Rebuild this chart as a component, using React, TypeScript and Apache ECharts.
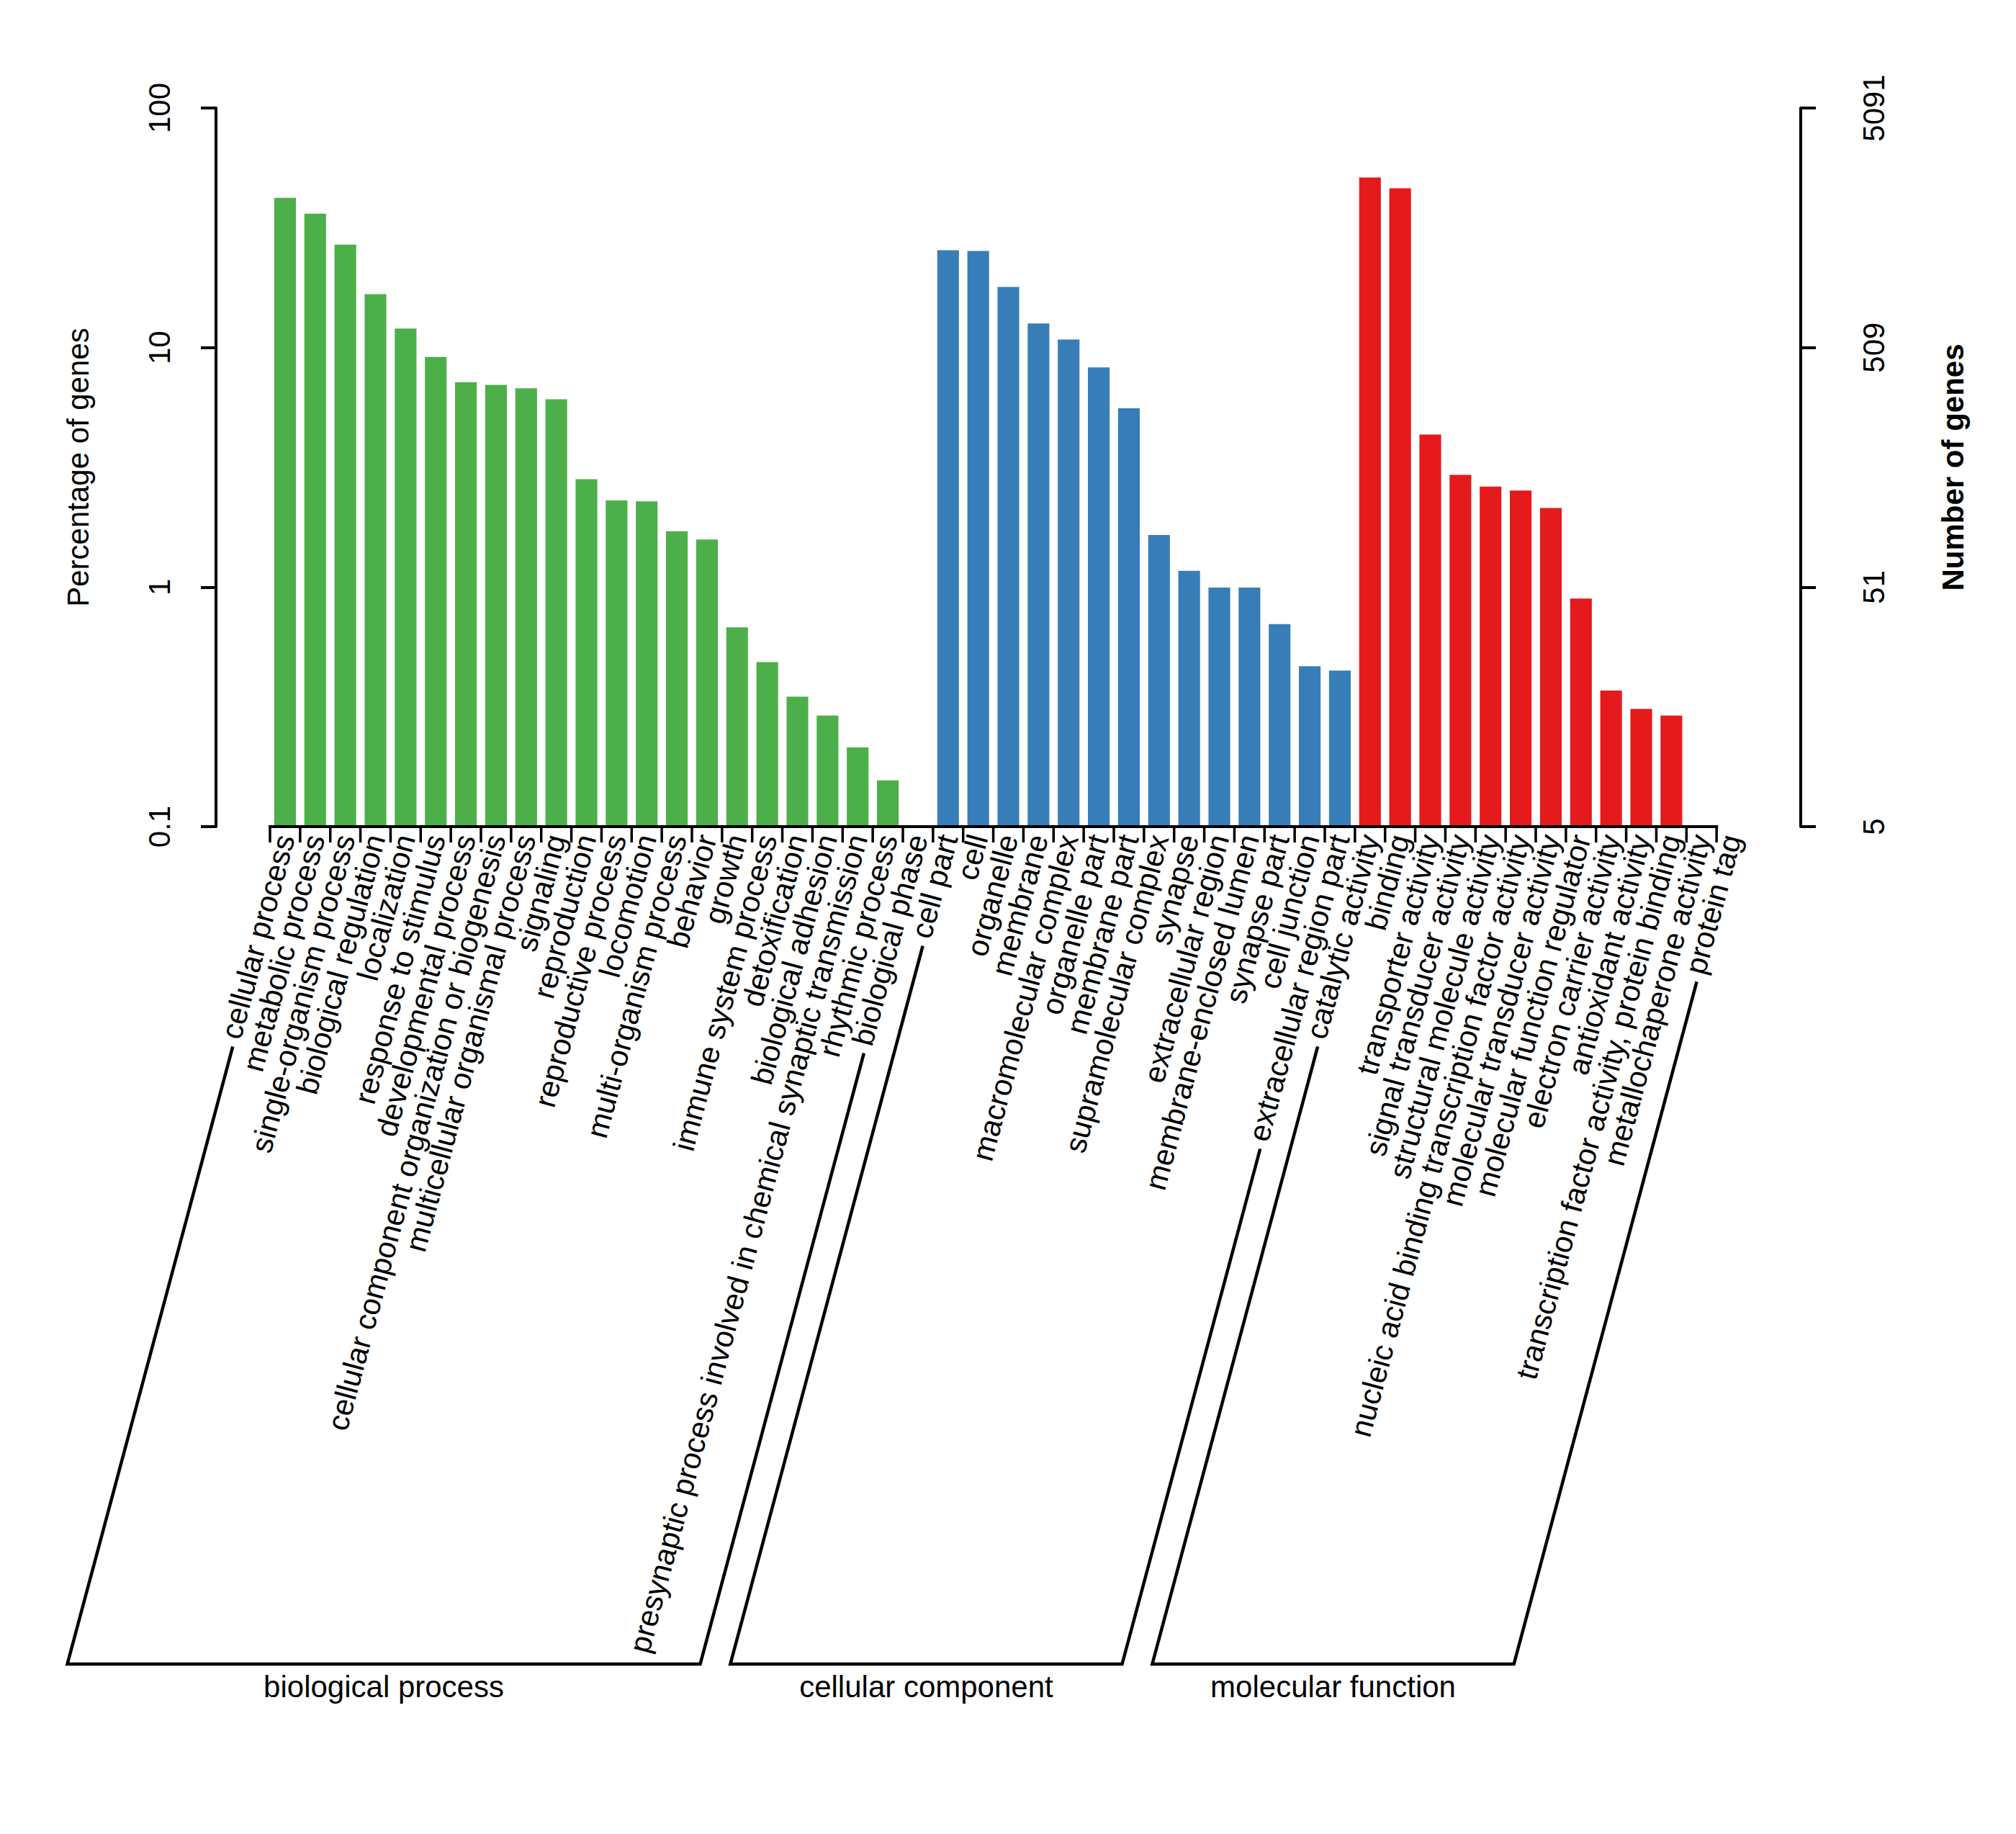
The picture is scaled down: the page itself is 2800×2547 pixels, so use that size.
import { useEffect, useRef } from 'react';
import * as echarts from 'echarts';

// GO level-2 terms, percentage of annotated genes (log scale)
const BP_TERMS = [
  'cellular process', 'metabolic process', 'single-organism process', 'biological regulation',
  'localization', 'response to stimulus', 'developmental process',
  'cellular component organization or biogenesis', 'multicellular organismal process', 'signaling',
  'reproduction', 'reproductive process', 'locomotion', 'multi-organism process', 'behavior', 'growth',
  'immune system process', 'detoxification', 'biological adhesion',
  'presynaptic process involved in chemical synaptic transmission', 'rhythmic process', 'biological phase',
];
const BP_PERCENT = [
  42.2, 36.2, 26.9, 16.7, 12.0, 9.14, 7.17, 6.98, 6.76, 6.08, 2.82, 2.3, 2.28, 1.71, 1.58,
  0.679, 0.486, 0.349, 0.291, 0.214, 0.156, 0.02,
];

const CC_TERMS = [
  'cell part', 'cell', 'organelle', 'membrane', 'macromolecular complex', 'organelle part',
  'membrane part', 'supramolecular complex', 'synapse', 'extracellular region',
  'membrane-enclosed lumen', 'synapse part', 'cell junction', 'extracellular region part',
];
const CC_PERCENT = [25.5, 25.3, 17.9, 12.6, 10.8, 8.26, 5.58, 1.65, 1.17, 0.995, 0.995, 0.701, 0.467, 0.448];

const MF_TERMS = [
  'catalytic activity', 'binding', 'transporter activity', 'signal transducer activity',
  'structural molecule activity', 'nucleic acid binding transcription factor activity',
  'molecular transducer activity', 'molecular function regulator', 'electron carrier activity',
  'antioxidant activity', 'transcription factor activity, protein binding', 'metallochaperone activity',
  'protein tag',
];
const MF_PERCENT = [51.3, 46.2, 4.33, 2.94, 2.63, 2.53, 2.14, 0.895, 0.37, 0.31, 0.291, 0.02, 0.02];

const GROUP_NAMES = ['biological process', 'cellular component', 'molecular function'];
const GROUP_COLORS = ['#4daf4a', '#377eb8', '#e41a1c'];
const TOTAL_GENES = 5091;

const FONT_FAMILY = '"Liberation Sans", Arial, Helvetica, sans-serif';
const FONT_SIZE = 42;
const LABEL_ROTATE = 75;
const LABEL_MARGIN = 12;
const BRACKET_GAP = 12;
const BRACKET_DX = 6;
const BRACKET_DROP = 1163;

export default function App() {
  const chartRef = useRef<HTMLDivElement>(null);

  useEffect(() => {
    if (!chartRef.current) return;
    document.body.style.margin = '0';

    const groups = [BP_TERMS, CC_TERMS, MF_TERMS];
    const values = [BP_PERCENT, CC_PERCENT, MF_PERCENT];
    const categories = groups.flat();

    const barData: any[] = [];
    const ranges: number[][] = [];
    let idx = 0;
    groups.forEach((terms, g) => {
      ranges.push([idx, idx + terms.length - 1, g]);
      terms.forEach((_, k) => {
        const v = values[g][k];
        // below axis minimum -> no visible bar
        barData.push(v < 0.1 ? '-' : { value: v, itemStyle: { color: GROUP_COLORS[g] } });
      });
      idx += terms.length;
    });

    // label widths, used to hang the group brackets off the first/last labels
    const ctx = document.createElement('canvas').getContext('2d')!;
    ctx.font = `${FONT_SIZE}px ${FONT_FAMILY}`;
    const labelWidths = categories.map(c => ctx.measureText(c).width);

    const rad = (LABEL_ROTATE * Math.PI) / 180;
    const dx = -Math.cos(rad);
    const dy = Math.sin(rad);

    const chart = echarts.init(chartRef.current, null, { renderer: 'svg' });

    const option = {
      animation: false,
      backgroundColor: '#fff',
      textStyle: { fontFamily: FONT_FAMILY, color: '#000' },
      grid: { left: 375, right: 374, top: 150, bottom: 1399, containLabel: false },
      xAxis: {
        type: 'category',
        data: categories,
        boundaryGap: true,
        axisLine: { show: false },
        axisTick: { show: false },
        axisLabel: {
          interval: 0,
          rotate: LABEL_ROTATE,
          margin: LABEL_MARGIN,
          fontSize: FONT_SIZE,
          color: '#000',
          fontFamily: FONT_FAMILY,
        },
      },
      yAxis: [
        {
          type: 'log',
          logBase: 10,
          min: 0.1,
          max: 100,
          startValue: 0.1,
          offset: 75,
          name: 'Percentage of genes',
          nameLocation: 'middle',
          nameRotate: 90,
          nameGap: 171,
          nameTextStyle: { fontSize: FONT_SIZE, color: '#000', fontFamily: FONT_FAMILY },
          axisLine: { show: true, lineStyle: { color: '#000', width: 4 } },
          axisTick: { show: true, length: 21, lineStyle: { color: '#000', width: 4 } },
          splitLine: { show: false },
          axisLabel: {
            rotate: 90,
            margin: 58,
            fontSize: FONT_SIZE,
            color: '#000',
            fontFamily: FONT_FAMILY,
            formatter: (v: number) => String(v),
          },
        },
        {
          type: 'log',
          logBase: 10,
          min: 0.1,
          max: 100,
          position: 'right',
          offset: 75,
          name: 'Number of genes',
          nameLocation: 'middle',
          nameRotate: 90,
          nameGap: 190,
          nameTextStyle: { fontSize: FONT_SIZE, fontWeight: 'bold', color: '#000', fontFamily: FONT_FAMILY },
          axisLine: { show: true, lineStyle: { color: '#000', width: 4 } },
          axisTick: { show: true, length: 21, lineStyle: { color: '#000', width: 4 } },
          splitLine: { show: false },
          axisLabel: {
            rotate: 90,
            margin: 80,
            fontSize: FONT_SIZE,
            color: '#000',
            fontFamily: FONT_FAMILY,
            formatter: (v: number) => String(Math.round((v / 100) * TOTAL_GENES)),
          },
        },
      ],
      series: [
        {
          name: 'percent',
          type: 'bar',
          data: barData,
          barWidth: '72%',
          yAxisIndex: 0,
        },
        {
          // R-style category axis: line from first to last tick, ticks at slot left edges
          name: 'xaxis',
          type: 'custom',
          silent: true,
          z: 5,
          data: categories.map((_, i) => [i, 0.1]),
          renderItem: (params: any, api: any) => {
            const i = api.value(0);
            const [cx, cy] = api.coord([i, 0.1]);
            const bw = api.coord([i + 1, 0.1])[0] - cx;
            const left = cx - bw / 2;
            const children: any[] = [
              {
                type: 'line',
                shape: { x1: left, y1: cy, x2: left, y2: cy + 22 },
                style: { stroke: '#000', lineWidth: 3.5 },
              },
            ];
            if (i === 0) {
              children.push({
                type: 'line',
                shape: { x1: left - 2, y1: cy, x2: left + bw * (categories.length - 1) + 2, y2: cy },
                style: { stroke: '#000', lineWidth: 4 },
              });
            }
            return { type: 'group', children };
          },
        },
        {
          name: 'groups',
          type: 'custom',
          silent: true,
          z: 5,
          encode: { x: [0, 1], y: 3 },
          data: ranges.map(r => [r[0], r[1], r[2], 0.1]),
          renderItem: (params: any, api: any) => {
            const s = api.value(0);
            const e = api.value(1);
            const g = api.value(2);
            const [xs0, y0] = api.coord([s, 0.1]);
            const [xe0] = api.coord([e, 0.1]);
            const xs = xs0 + BRACKET_DX;
            const xe = xe0 + BRACKET_DX;
            const ay = y0 + LABEL_MARGIN;
            const bottomY = y0 + BRACKET_DROP;
            const top = (x: number, w: number) => [x + dx * (w + BRACKET_GAP), ay + dy * (w + BRACKET_GAP)];
            const bottomX = (x: number) => x + (dx * (bottomY - ay)) / dy;
            const p1 = top(xs, labelWidths[s]);
            const p4 = top(xe, labelWidths[e]);
            const p2 = [bottomX(xs), bottomY];
            const p3 = [bottomX(xe), bottomY];
            return {
              type: 'group',
              children: [
                {
                  type: 'polyline',
                  shape: { points: [p1, p2, p3, p4] },
                  style: { stroke: '#000', lineWidth: 4.5, fill: null },
                },
                {
                  type: 'text',
                  x: (p2[0] + p3[0]) / 2,
                  y: bottomY + 31,
                  style: {
                    text: GROUP_NAMES[g],
                    fill: '#000',
                    fontSize: FONT_SIZE,
                    fontFamily: FONT_FAMILY,
                    align: 'center',
                    verticalAlign: 'middle',
                  },
                },
              ],
            };
          },
        },
      ],
    };

    chart.setOption(option);

    return () => {
      chart.dispose();
    };
  }, []);

  return <div ref={chartRef} style={{ width: '2800px', height: '2547px' }} />;
}
